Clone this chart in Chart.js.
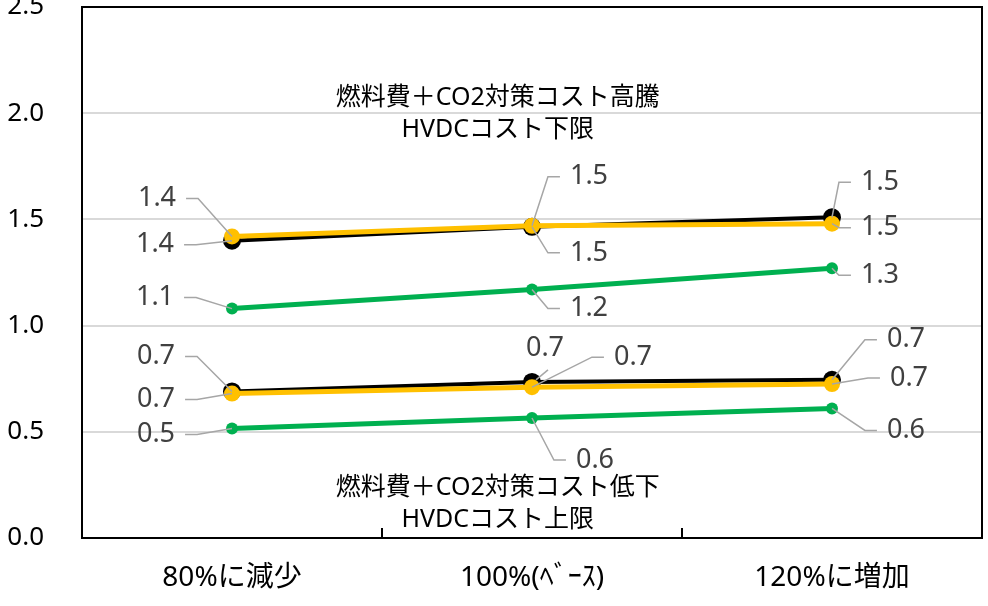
<!DOCTYPE html>
<html>
<head>
<meta charset="utf-8">
<script src="https://cdn.jsdelivr.net/npm/chart.js@4.4.1/dist/chart.umd.min.js"></script>
<style>
  html, body { margin: 0; padding: 0; background: #fff; }
  #wrap { width: 988px; height: 606px; }
</style>
</head>
<body>
<div id="wrap"><canvas id="myLineChart"></canvas></div>
<script>
// カテゴリと各系列の値
const categories = ['80%に減少', '100%(ﾍﾞｰｽ)', '120%に増加'];
const highBlack  = [1.40, 1.465, 1.51];
const highYellow = [1.42, 1.47, 1.48];
const highGreen  = [1.08, 1.17, 1.27];
const lowBlack   = [0.69, 0.735, 0.745];
const lowYellow  = [0.68, 0.71, 0.725];
const lowGreen   = [0.515, 0.565, 0.61];
const yTicks     = [0, 0.5, 1.0, 1.5, 2.0, 2.5];
const noteHigh   = ['燃料費＋CO2対策コスト高騰', 'HVDCコスト下限'];
const noteLow    = ['燃料費＋CO2対策コスト低下', 'HVDCコスト上限'];

const FONT = '"Noto Sans", "Noto Sans CJK JP", sans-serif';

// データラベルの位置 (点からのずらし量 px, 引き出し線の種類)
const labelOffsets = {
    highBlack:  [[-77, 4, 'h'], [57, 26, 'h'], [48, -35, 'h']],
    highYellow: [[-75, -38, 'h'], [57, -49, 'h'], [48, 4, 'h']],
    highGreen:  [[-77, -11, 'h'], [57, 19, 'h'], [48, 7, 'h']],
    lowBlack:   [[-76, -35, 'h'], [13, -34, 'v'], [74, -40, 'h']],
    lowYellow:  [[-76, 6, 'h'], [101, -30, 'h'], [77, -6, 'h']],
    lowGreen:   [[-76, 6, 'h'], [63, 42, 'h'], [74, 22, 'h']]
};

function makeSeries(key, data, color, width, radius, order) {
    return {
        label: key,
        data: data,
        borderColor: color,
        backgroundColor: color,
        borderWidth: width,
        pointRadius: radius,
        pointHoverRadius: radius,
        pointBorderWidth: 0,
        tension: 0,
        order: order,
        clip: false,
        offsets: labelOffsets[key]
    };
}

// 枠線・目盛・注記・データラベルを描くプラグイン
const decorPlugin = {
    id: 'decor',
    beforeDatasetsDraw(chart) {
        const { ctx, chartArea: a, scales } = chart;
        ctx.save();
        ctx.strokeStyle = '#000';
        ctx.lineWidth = 2;
        ctx.strokeRect(a.left, a.top, a.right - a.left, a.bottom - a.top);
        // カテゴリ境界の目盛 (内向き)
        for (let i = 0; i < categories.length - 1; i++) {
            const x = Math.round((scales.x.getPixelForValue(i) + scales.x.getPixelForValue(i + 1)) / 2);
            ctx.beginPath();
            ctx.moveTo(x, a.bottom);
            ctx.lineTo(x, a.bottom - 10);
            ctx.stroke();
        }
        // 注記
        ctx.fillStyle = '#000';
        ctx.font = '25px ' + FONT;
        ctx.textAlign = 'center';
        ctx.textBaseline = 'middle';
        const cx = a.left + (a.right - a.left) * 0.462;
        ctx.fillText(noteHigh[0], cx, scales.y.getPixelForValue(2.07));
        ctx.fillText(noteHigh[1], cx, scales.y.getPixelForValue(1.92));
        ctx.fillText(noteLow[0], cx, scales.y.getPixelForValue(0.235));
        ctx.fillText(noteLow[1], cx, scales.y.getPixelForValue(0.085));
        ctx.restore();
    },
    afterDatasetsDraw(chart) {
        const ctx = chart.ctx;
        ctx.save();
        ctx.font = '27px ' + FONT;
        ctx.textAlign = 'center';
        ctx.textBaseline = 'middle';
        chart.data.datasets.forEach((ds, di) => {
            const meta = chart.getDatasetMeta(di);
            meta.data.forEach((pt, i) => {
                const [dx, dy, kind] = ds.offsets[i];
                const text = ds.data[i].toFixed(1);
                const tx = pt.x + dx, ty = pt.y + dy;
                const half = ctx.measureText(text).width / 2;
                ctx.strokeStyle = '#a6a6a6';
                ctx.lineWidth = 1.5;
                ctx.beginPath();
                if (kind === 'h') {
                    const edge = dx < 0 ? tx + half + 10 : tx - half - 10;
                    const elbow = dx < 0 ? edge + 12 : edge - 12;
                    ctx.moveTo(edge, ty);
                    ctx.lineTo(elbow, ty);
                    ctx.lineTo(pt.x, pt.y);
                } else {
                    ctx.moveTo(tx + 3, ty + 22);
                    ctx.lineTo(pt.x + 4, pt.y - 2);
                }
                ctx.stroke();
                ctx.fillStyle = '#404040';
                ctx.fillText(text, tx, ty);
            });
        });
        ctx.restore();
    }
};

const ctx = document.getElementById('myLineChart').getContext('2d');
window.myLineChart = new Chart(ctx, {
    type: 'line',
    data: {
        labels: categories,
        datasets: [
            makeSeries('highBlack', highBlack, '#000000', 4, 9, 3),
            makeSeries('highYellow', highYellow, '#ffc000', 5, 8, 2),
            makeSeries('highGreen', highGreen, '#00b050', 5, 6, 1),
            makeSeries('lowBlack', lowBlack, '#000000', 4, 9, 3),
            makeSeries('lowYellow', lowYellow, '#ffc000', 5, 8, 2),
            makeSeries('lowGreen', lowGreen, '#00b050', 5, 6, 1)
        ]
    },
    options: {
        responsive: true,
        maintainAspectRatio: false,
        animation: false,
        layout: { autoPadding: false, padding: { top: 7, right: 6, left: 0, bottom: 0 } },
        plugins: {
            legend: { display: false },
            tooltip: { enabled: false }
        },
        scales: {
            x: {
                offset: true,
                grid: { display: false, drawTicks: false },
                border: { display: false },
                ticks: {
                    color: '#000',
                    padding: 23,
                    maxRotation: 0,
                    font: { size: 28, family: FONT }
                },
                afterFit(scale) {
                    scale.height = 68;
                    scale.paddingLeft = 0;
                    scale.paddingRight = 0;
                }
            },
            y: {
                min: 0,
                max: 2.5,
                afterBuildTicks(scale) {
                    scale.ticks = yTicks.map(v => ({ value: v }));
                },
                grid: { color: '#d9d9d9', lineWidth: 2, drawTicks: false },
                border: { display: false },
                ticks: {
                    color: '#000',
                    padding: 38,
                    font: { size: 26, family: FONT },
                    callback: v => v.toFixed(1)
                },
                afterFit(scale) {
                    scale.width = 82;
                    scale.paddingTop = 0;
                    scale.paddingBottom = 0;
                }
            }
        }
    },
    plugins: [decorPlugin]
});
</script>
</body>
</html>
